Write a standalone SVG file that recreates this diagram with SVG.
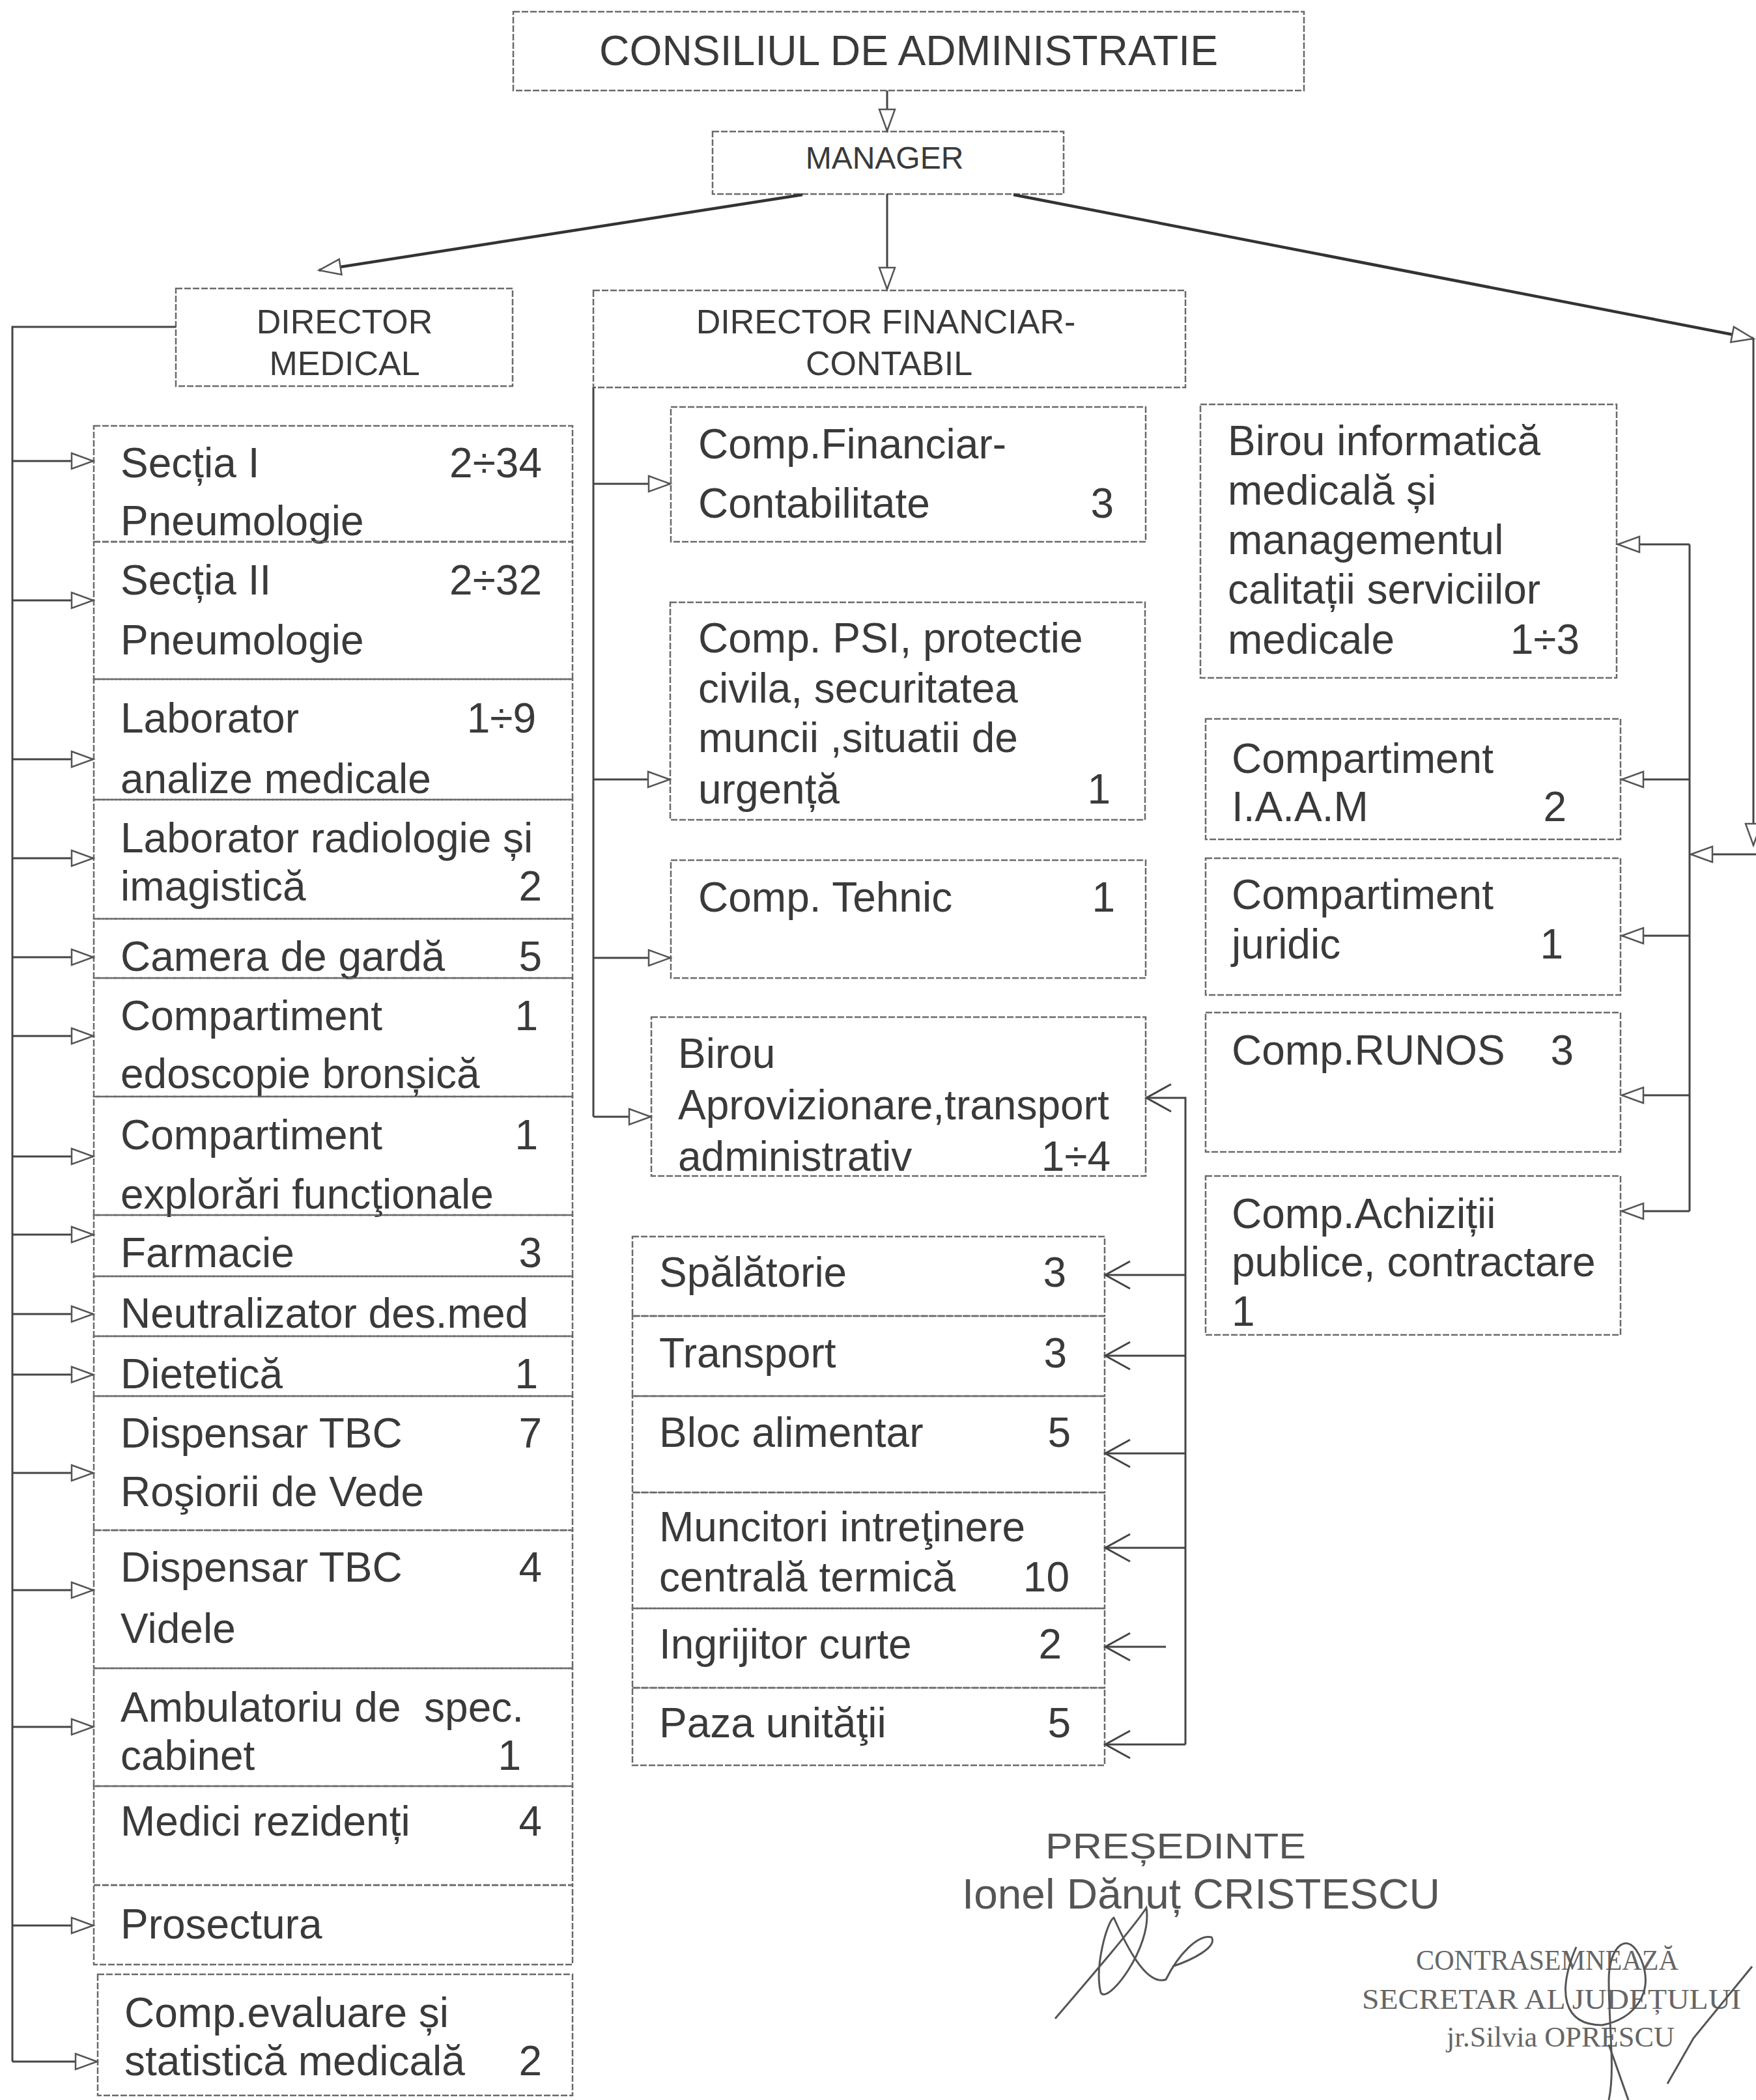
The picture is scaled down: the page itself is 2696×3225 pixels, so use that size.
<svg xmlns="http://www.w3.org/2000/svg" width="2696" height="3225" viewBox="0 0 2696 3225">
<style>
.box{fill:none;stroke:#6a6a6a;stroke-width:2.5;stroke-dasharray:10 3}
.t{font-family:"Liberation Sans",Arial,sans-serif;font-size:64px;fill:#3a3a3a}
.h{font-family:"Liberation Sans",Arial,sans-serif;font-size:52px;fill:#3a3a3a;text-anchor:middle}
.n{text-anchor:end}
.c{fill:none;stroke:#444;stroke-width:3}
.cb{fill:none;stroke:#333;stroke-width:4.5}
.s{font-family:"Liberation Serif","Times New Roman",serif;font-size:44px;fill:#666}
.sig{fill:none;stroke:#555;stroke-width:3}
</style>
<defs>
<marker id="tri" markerUnits="userSpaceOnUse" markerWidth="40" markerHeight="32" refX="36" refY="16" orient="auto">
<path d="M3,4 L36,16 L3,28 Z" fill="#fff" stroke="#555" stroke-width="2.5"/>
</marker>
<marker id="chev" markerUnits="userSpaceOnUse" markerWidth="48" markerHeight="50" refX="44" refY="25" orient="auto">
<path d="M6,4 L44,25 L6,46" fill="none" stroke="#444" stroke-width="3"/>
</marker>
</defs>
<rect width="2696" height="3225" fill="#fff"/>

<g id="consiliul">
<rect class="box" x="788" y="18" width="1214" height="121"/>
<text class="h" x="1395" y="100" style="font-size:64px" textLength="950" lengthAdjust="spacingAndGlyphs">CONSILIUL DE ADMINISTRATIE</text>
</g>
<g id="manager">
<rect class="box" x="1094" y="202" width="539" height="96"/>
<text class="h" x="1358" y="259" style="font-size:48px">MANAGER</text>
</g>
<g id="director-medical">
<rect class="box" x="270" y="443" width="517" height="150"/>
<text class="h" x="529" y="512">DIRECTOR</text>
<text class="h" x="529" y="576">MEDICAL</text>
</g>
<g id="director-financiar">
<rect class="box" x="911" y="446" width="909" height="149"/>
<text class="h" x="1360" y="512">DIRECTOR FINANCIAR-</text>
<text class="h" x="1365" y="576">CONTABIL</text>
</g>

<g id="medical-units">
<g id="sectia1"><rect class="box" x="144" y="654" width="735" height="178"/>
<text class="t" x="185" y="733">Secția I</text><text class="t n" x="832" y="733">2÷34</text>
<text class="t" x="185" y="822">Pneumologie</text></g>
<g id="sectia2"><rect class="box" x="144" y="832" width="735" height="211"/>
<text class="t" x="185" y="913">Secția II</text><text class="t n" x="832" y="913">2÷32</text>
<text class="t" x="185" y="1005">Pneumologie</text></g>
<g id="lab-analize"><rect class="box" x="144" y="1043" width="735" height="185"/>
<text class="t" x="185" y="1125">Laborator</text><text class="t n" x="823" y="1125">1÷9</text>
<text class="t" x="185" y="1218">analize medicale</text></g>
<g id="lab-radiologie"><rect class="box" x="144" y="1228" width="735" height="183"/>
<text class="t" x="185" y="1309">Laborator radiologie și</text>
<text class="t" x="185" y="1383">imagistică</text><text class="t n" x="832" y="1383">2</text></g>
<g id="camera-garda"><rect class="box" x="144" y="1411" width="735" height="91"/>
<text class="t" x="185" y="1491">Camera de gardă</text><text class="t n" x="832" y="1491">5</text></g>
<g id="comp-endoscopie"><rect class="box" x="144" y="1502" width="735" height="182"/>
<text class="t" x="185" y="1582">Compartiment</text><text class="t n" x="826" y="1582">1</text>
<text class="t" x="185" y="1671">edoscopie bronșică</text></g>
<g id="comp-explorari"><rect class="box" x="144" y="1684" width="735" height="182"/>
<text class="t" x="185" y="1765">Compartiment</text><text class="t n" x="826" y="1765">1</text>
<text class="t" x="185" y="1856">explorări funcţionale</text></g>
<g id="farmacie"><rect class="box" x="144" y="1866" width="735" height="94"/>
<text class="t" x="185" y="1946">Farmacie</text><text class="t n" x="832" y="1946">3</text></g>
<g id="neutralizator"><rect class="box" x="144" y="1960" width="735" height="92"/>
<text class="t" x="185" y="2039">Neutralizator des.med</text></g>
<g id="dietetica"><rect class="box" x="144" y="2052" width="735" height="92"/>
<text class="t" x="185" y="2132">Dietetică</text><text class="t n" x="826" y="2132">1</text></g>
<g id="dispensar-rosiori"><rect class="box" x="144" y="2144" width="735" height="206"/>
<text class="t" x="185" y="2223">Dispensar TBC</text><text class="t n" x="832" y="2223">7</text>
<text class="t" x="185" y="2313">Roşiorii de Vede</text></g>
<g id="dispensar-videle"><rect class="box" x="144" y="2350" width="735" height="212"/>
<text class="t" x="185" y="2429">Dispensar TBC</text><text class="t n" x="832" y="2429">4</text>
<text class="t" x="185" y="2523">Videle</text></g>
<g id="ambulatoriu"><rect class="box" x="144" y="2562" width="735" height="181"/>
<text class="t" x="185" y="2644" xml:space="preserve">Ambulatoriu de  spec.</text>
<text class="t" x="185" y="2718">cabinet</text><text class="t n" x="800" y="2718">1</text></g>
<g id="medici-rezidenti"><rect class="box" x="144" y="2743" width="735" height="152"/>
<text class="t" x="185" y="2819">Medici rezidenți</text><text class="t n" x="832" y="2819">4</text></g>
<g id="prosectura"><rect class="box" x="144" y="2895" width="735" height="122"/>
<text class="t" x="185" y="2977">Prosectura</text></g>
<g id="comp-evaluare"><rect class="box" x="150" y="3032" width="729" height="186"/>
<text class="t" x="191" y="3113">Comp.evaluare și</text>
<text class="t" x="191" y="3187">statistică medicală</text><text class="t n" x="832" y="3187">2</text></g>
</g>

<g id="financial-units">
<g id="comp-financiar"><rect class="box" x="1030" y="625" width="729" height="207"/>
<text class="t" x="1072" y="704">Comp.Financiar-</text>
<text class="t" x="1072" y="795">Contabilitate</text><text class="t n" x="1710" y="795">3</text></g>
<g id="comp-psi"><rect class="box" x="1029" y="925" width="729" height="334"/>
<text class="t" x="1072" y="1002">Comp. PSI, protectie</text>
<text class="t" x="1072" y="1079">civila, securitatea</text>
<text class="t" x="1072" y="1155">muncii ,situatii de</text>
<text class="t" x="1072" y="1234">urgență</text><text class="t n" x="1705" y="1234">1</text></g>
<g id="comp-tehnic"><rect class="box" x="1030" y="1321" width="729" height="181"/>
<text class="t" x="1072" y="1400">Comp. Tehnic</text><text class="t n" x="1712" y="1400">1</text></g>
<g id="birou-aprovizionare"><rect class="box" x="1000" y="1562" width="759" height="244"/>
<text class="t" x="1041" y="1640">Birou</text>
<text class="t" x="1041" y="1719">Aprovizionare,transport</text>
<text class="t" x="1041" y="1798">administrativ</text><text class="t n" x="1705" y="1798">1÷4</text></g>
</g>

<g id="admin-units">
<g id="spalatorie"><rect class="box" x="971" y="1899" width="725" height="122"/>
<text class="t" x="1012" y="1976">Spălătorie</text><text class="t n" x="1637" y="1976">3</text></g>
<g id="transport"><rect class="box" x="971" y="2021" width="725" height="123"/>
<text class="t" x="1012" y="2100">Transport</text><text class="t n" x="1638" y="2100">3</text></g>
<g id="bloc-alimentar"><rect class="box" x="971" y="2144" width="725" height="148"/>
<text class="t" x="1012" y="2222">Bloc alimentar</text><text class="t n" x="1644" y="2222">5</text></g>
<g id="muncitori"><rect class="box" x="971" y="2292" width="725" height="178"/>
<text class="t" x="1012" y="2367">Muncitori intreţinere</text>
<text class="t" x="1012" y="2444">centrală termică</text><text class="t n" x="1642" y="2444">10</text></g>
<g id="ingrijitor"><rect class="box" x="971" y="2470" width="725" height="122"/>
<text class="t" x="1012" y="2547">Ingrijitor curte</text><text class="t n" x="1630" y="2547">2</text></g>
<g id="paza"><rect class="box" x="971" y="2592" width="725" height="119"/>
<text class="t" x="1012" y="2668">Paza unităţii</text><text class="t n" x="1644" y="2668">5</text></g>
</g>

<g id="manager-units">
<g id="birou-informatica"><rect class="box" x="1843" y="621" width="639" height="420"/>
<text class="t" x="1885" y="699">Birou informatică</text>
<text class="t" x="1885" y="775">medicală și</text>
<text class="t" x="1885" y="851">managementul</text>
<text class="t" x="1885" y="927">calitații serviciilor</text>
<text class="t" x="1885" y="1004">medicale</text><text class="t n" x="2425" y="1004">1÷3</text></g>
<g id="comp-iaam"><rect class="box" x="1851" y="1104" width="637" height="185"/>
<text class="t" x="1891" y="1187">Compartiment</text>
<text class="t" x="1891" y="1261">I.A.A.M</text><text class="t n" x="2405" y="1261">2</text></g>
<g id="comp-juridic"><rect class="box" x="1851" y="1318" width="637" height="210"/>
<text class="t" x="1891" y="1396">Compartiment</text>
<text class="t" x="1891" y="1472">juridic</text><text class="t n" x="2400" y="1472">1</text></g>
<g id="comp-runos"><rect class="box" x="1851" y="1555" width="637" height="214"/>
<text class="t" x="1891" y="1635">Comp.RUNOS</text><text class="t n" x="2416" y="1635">3</text></g>
<g id="comp-achizitii"><rect class="box" x="1851" y="1806" width="637" height="244"/>
<text class="t" x="1891" y="1886">Comp.Achiziții</text>
<text class="t" x="1891" y="1960">publice, contractare</text>
<text class="t" x="1891" y="2036">1</text></g>
</g>

<g id="connectors">
<path class="c" d="M1362,139 L1362,201" marker-end="url(#tri)"/>
<path class="cb" d="M1232,299 L490,415" marker-end="url(#tri)"/>
<path class="c" d="M1362,298 L1362,444" marker-end="url(#tri)"/>
<path class="cb" d="M1556,299 L2692,520" marker-end="url(#tri)"/>
<path class="c" d="M270,502 L19,502 L19,3166"/>
<path class="c" d="M19,708 H143" marker-end="url(#tri)"/>
<path class="c" d="M19,922 H143" marker-end="url(#tri)"/>
<path class="c" d="M19,1166 H143" marker-end="url(#tri)"/>
<path class="c" d="M19,1318 H143" marker-end="url(#tri)"/>
<path class="c" d="M19,1470 H143" marker-end="url(#tri)"/>
<path class="c" d="M19,1591 H143" marker-end="url(#tri)"/>
<path class="c" d="M19,1776 H143" marker-end="url(#tri)"/>
<path class="c" d="M19,1896 H143" marker-end="url(#tri)"/>
<path class="c" d="M19,2018 H143" marker-end="url(#tri)"/>
<path class="c" d="M19,2111 H143" marker-end="url(#tri)"/>
<path class="c" d="M19,2262 H143" marker-end="url(#tri)"/>
<path class="c" d="M19,2442 H143" marker-end="url(#tri)"/>
<path class="c" d="M19,2652 H143" marker-end="url(#tri)"/>
<path class="c" d="M19,2957 H143" marker-end="url(#tri)"/>
<path class="c" d="M19,3166 H149" marker-end="url(#tri)"/>
<path class="c" d="M911,595 L911,1715"/>
<path class="c" d="M911,743 H1029" marker-end="url(#tri)"/>
<path class="c" d="M911,1197 H1028" marker-end="url(#tri)"/>
<path class="c" d="M911,1471 H1029" marker-end="url(#tri)"/>
<path class="c" d="M911,1715 H999" marker-end="url(#tri)"/>
<path class="c" d="M1820,2679 L1820,1686 L1760,1686" marker-end="url(#chev)"/>
<path class="c" d="M1820,1958 H1697" marker-end="url(#chev)"/>
<path class="c" d="M1820,2082 H1697" marker-end="url(#chev)"/>
<path class="c" d="M1820,2232 H1697" marker-end="url(#chev)"/>
<path class="c" d="M1820,2377 H1697" marker-end="url(#chev)"/>
<path class="c" d="M1790,2529 H1697" marker-end="url(#chev)"/>
<path class="c" d="M1820,2679 H1697" marker-end="url(#chev)"/>
<path class="c" d="M2692,520 L2692,1298" marker-end="url(#tri)"/>
<path class="c" d="M2696,1312 L2596,1312" marker-end="url(#tri)"/>
<path class="c" d="M2594,836 L2594,1860"/>
<path class="c" d="M2594,836 H2484" marker-end="url(#tri)"/>
<path class="c" d="M2594,1197 H2490" marker-end="url(#tri)"/>
<path class="c" d="M2594,1437 H2490" marker-end="url(#tri)"/>
<path class="c" d="M2594,1682 H2490" marker-end="url(#tri)"/>
<path class="c" d="M2594,1860 H2490" marker-end="url(#tri)"/>
</g>

<g id="signatures">
<text class="h" x="1805" y="2854" style="font-size:56px;fill:#555" textLength="400" lengthAdjust="spacingAndGlyphs">PREȘEDINTE</text>
<text class="t" x="1477" y="2931" style="fill:#555" textLength="734" lengthAdjust="spacingAndGlyphs">Ionel Dănuț CRISTESCU</text>
<text class="s" x="2174" y="3025" textLength="403" lengthAdjust="spacingAndGlyphs">CONTRASEMNEAZĂ</text>
<text class="s" x="2091" y="3085" textLength="582" lengthAdjust="spacingAndGlyphs">SECRETAR AL JUDEȚULUI</text>
<text class="s" x="2221" y="3143" textLength="350" lengthAdjust="spacingAndGlyphs">jr.Silvia OPRESCU</text>
<path class="sig" d="M1620,3100 C1680,3030 1740,2960 1760,2930 C1770,2990 1700,3080 1690,3060 C1680,3020 1700,2950 1710,2945 C1730,2990 1760,3050 1790,3040 C1810,3000 1840,2970 1860,2975 C1870,2990 1830,3010 1800,3020"/>
<path class="sig" d="M2420,2990 C2390,3060 2400,3110 2460,3110 C2510,3100 2540,3060 2520,3010 C2500,2960 2470,2990 2470,3040 C2470,3110 2480,3180 2470,3225"/>
<path class="sig" d="M2690,3020 L2600,3130 L2560,3200"/>
<path class="sig" d="M2470,3140 L2500,3225"/>
</g>
</svg>
